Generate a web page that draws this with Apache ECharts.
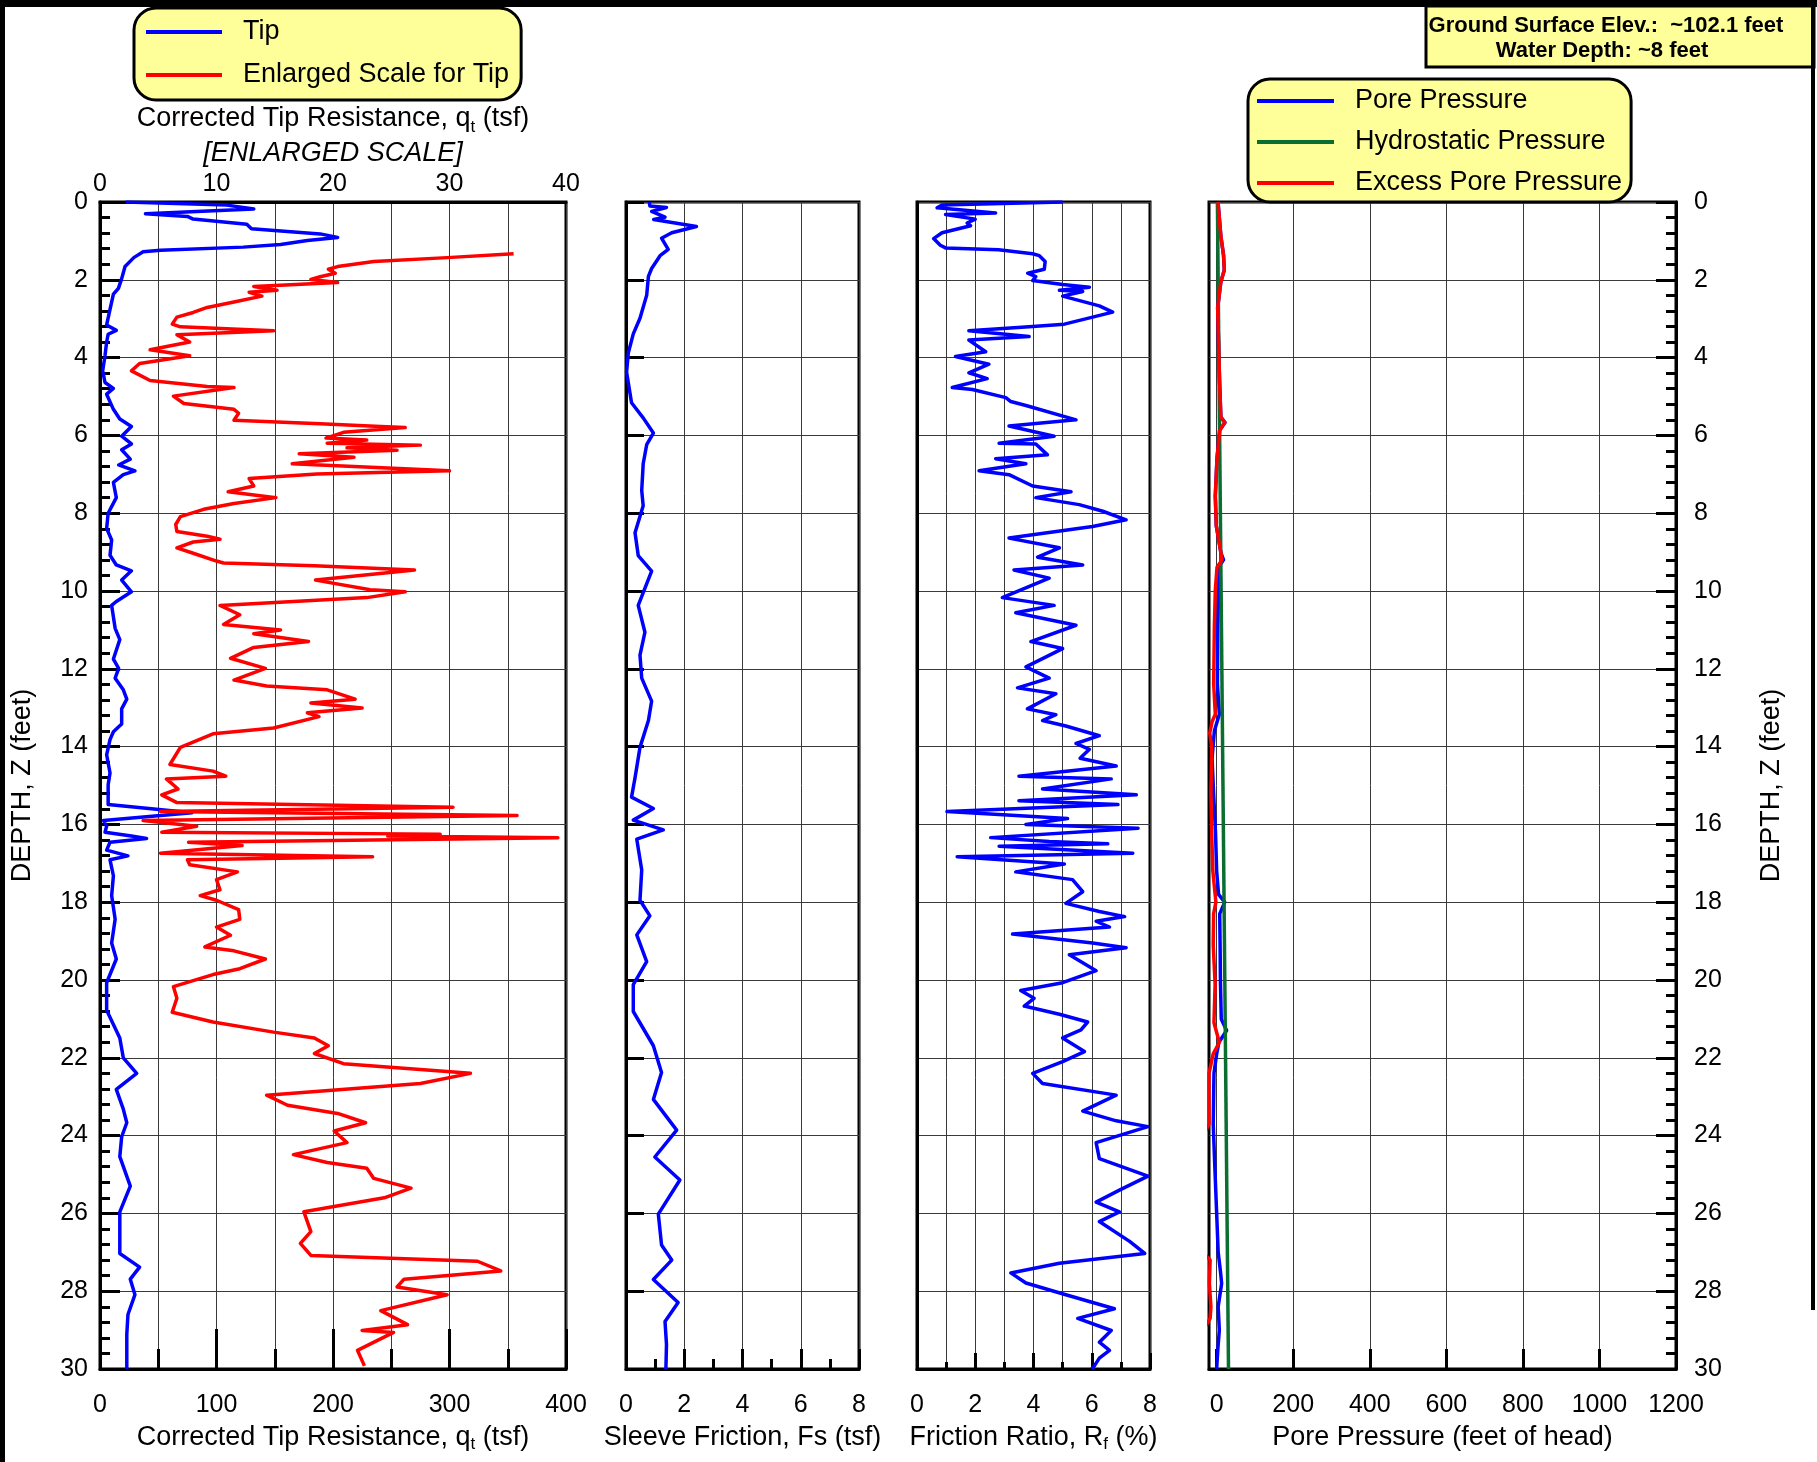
<!DOCTYPE html>
<html>
<head>
<meta charset="utf-8">
<title>CPT log</title>
<script src="https://cdn.jsdelivr.net/npm/echarts@6.0.0/dist/echarts.min.js"></script>
<style>
  html, body { margin: 0; padding: 0; background: #fff; }
  #chart { width: 1817px; height: 1462px; }
</style>
</head>
<body>
<div id="chart"></div>
<script>
// [depth (ft), value]
const tipQt = [[0,22],[0.08,109],[0.18,132],[0.3,39],[0.37,75],[0.44,80],[0.57,126],[0.69,130],[0.82,189],[0.91,204],[0.99,178],[1.09,155],[1.16,123],[1.24,52],[1.28,37],[1.43,29],[1.66,21.5],[1.97,18.6],[2.22,15.8],[2.37,11.5],[2.76,8.6],[3.16,5.7],[3.3,14],[3.4,7],[3.6,5.7],[3.95,4.3],[4.34,2.3],[4.64,4.3],[4.79,11.5],[4.94,5.7],[5.33,11.5],[5.58,17],[5.77,27],[6.02,18.6],[6.22,27],[6.37,18.6],[6.61,26],[6.76,16],[6.91,30],[7.01,20],[7.21,11.5],[7.6,14],[8.0,7],[8.39,5.7],[8.69,10],[9.08,8.6],[9.33,14],[9.48,27],[9.72,18.6],[10.02,27],[10.27,14],[10.37,10],[10.96,13],[11.25,17],[11.75,11.5],[11.99,16],[12.24,13],[12.54,20],[12.78,23],[13.03,18.6],[13.42,18.6],[13.62,11.5],[13.82,8.6],[14.21,5.7],[14.68,8.6],[14.98,7],[15.49,7],[15.7,79],[15.9,3],[16.05,5.7],[16.2,4.3],[16.3,27],[16.36,40],[16.46,8.6],[16.66,5.7],[16.81,24],[16.91,8.6],[17.32,11.5],[17.83,10],[18.44,13],[19.05,10],[19.46,14],[20.07,5.7],[20.78,5.7],[21.49,17],[22.0,20],[22.4,31.5],[22.81,14],[23.32,20],[23.67,23],[24.03,18.6],[24.54,17],[25.3,26],[25.96,17],[27.03,17],[27.38,34],[27.69,26],[28.09,30],[28.6,24],[29.11,23],[29.92,23],[30,23]];

const tipEnlarged = [[1.33,35.5],[1.43,29.8],[1.53,23.5],[1.66,20.4],[1.73,19.6],[1.83,20.2],[1.92,18.9],[1.99,18.1],[2.07,20.4],[2.17,13.2],[2.27,15.2],[2.32,12.8],[2.42,13.9],[2.57,11.5],[2.71,9.2],[2.84,8.0],[2.96,6.6],[3.14,6.2],[3.21,6.9],[3.31,14.9],[3.41,6.6],[3.6,7.7],[3.8,4.3],[3.95,7.7],[4.15,3.4],[4.34,2.7],[4.59,4.3],[4.74,9.2],[4.77,11.5],[4.99,6.3],[5.18,7.2],[5.33,11.5],[5.43,11.9],[5.61,11.5],[5.7,18.9],[5.77,24.1],[5.8,26.2],[5.92,20.9],[6.07,19.4],[6.12,22.9],[6.2,19.5],[6.25,27.5],[6.32,21.2],[6.38,25.5],[6.47,17.1],[6.56,21.8],[6.73,16.5],[6.91,30.0],[6.99,18.6],[7.11,12.8],[7.3,13.2],[7.45,11.0],[7.6,15.1],[7.75,11.5],[7.9,8.9],[8.09,6.9],[8.29,6.5],[8.47,6.6],[8.59,9.2],[8.67,10.3],[8.74,8.0],[8.89,6.6],[9.03,8.0],[9.23,10.0],[9.28,10.6],[9.35,18.4],[9.46,27.0],[9.72,18.5],[9.97,23.2],[10.02,26.2],[10.17,22.9],[10.37,10.3],[10.61,12.0],[10.86,10.6],[11.0,15.5],[11.1,13.2],[11.3,17.9],[11.45,13.2],[11.73,11.2],[11.99,14.2],[12.29,11.5],[12.44,14.3],[12.54,19.5],[12.78,21.9],[12.88,18.1],[13.01,22.5],[13.13,17.8],[13.23,18.8],[13.52,14.9],[13.67,9.7],[14.02,6.9],[14.46,6.0],[14.63,9.7],[14.76,10.8],[14.83,5.7],[15.09,6.7],[15.24,5.3],[15.44,6.6],[15.56,30.3],[15.67,5.2],[15.77,35.8],[15.9,3.7],[16.05,8.3],[16.2,5.3],[16.25,29.2],[16.3,24.7],[16.34,39.3],[16.46,7.6],[16.54,12.2],[16.74,5.2],[16.83,23.4],[16.91,7.5],[17.04,7.7],[17.22,11.8],[17.42,10.0],[17.68,10.3],[17.83,8.6],[17.95,10.0],[18.19,11.9],[18.44,12.0],[18.64,10.0],[18.85,11.2],[19.15,9.0],[19.25,11.5],[19.46,14.2],[19.71,12.0],[19.86,9.7],[20.17,6.3],[20.47,6.6],[20.83,6.2],[21.08,9.7],[21.34,14.9],[21.49,18.4],[21.69,19.6],[21.89,18.4],[22.15,20.9],[22.4,31.8],[22.66,27.5],[22.96,14.3],[23.22,16.1],[23.43,20.4],[23.67,22.8],[23.88,20.1],[24.18,21.2],[24.49,16.6],[24.69,19.5],[24.84,22.9],[25.1,23.5],[25.35,26.7],[25.6,24.4],[25.96,17.5],[26.47,18.1],[26.77,17.2],[27.08,18.1],[27.23,32.4],[27.48,34.4],[27.69,26.1],[27.89,25.5],[28.09,29.8],[28.5,24.1],[28.86,26.4],[29.01,22.5],[29.06,25.2],[29.52,22.1],[29.92,22.7]];

const sleeveFs = [[0,0.8],[0.1,0.82],[0.14,1.39],[0.24,0.88],[0.39,1.34],[0.45,0.95],[0.63,2.42],[0.79,1.57],[0.93,1.22],[1.22,1.45],[1.38,1.17],[1.71,0.88],[1.91,0.77],[2.4,0.71],[2.99,0.48],[3.39,0.25],[3.88,0.08],[4.37,0.02],[5.16,0.19],[5.55,0.59],[5.94,0.94],[6.24,0.71],[6.73,0.59],[7.42,0.54],[7.81,0.59],[8.5,0.31],[9.09,0.42],[9.49,0.88],[10.37,0.42],[11.06,0.65],[11.65,0.48],[12.24,0.54],[12.83,0.88],[13.33,0.77],[14.02,0.48],[14.8,0.31],[15.3,0.19],[15.59,0.94],[15.89,0.25],[16.14,1.28],[16.38,0.37],[17.17,0.54],[17.95,0.48],[18.35,0.82],[18.84,0.37],[19.53,0.71],[20.12,0.25],[20.81,0.25],[21.69,0.94],[22.38,1.22],[23.07,0.94],[23.86,1.74],[24.55,0.99],[25.14,1.85],[26.02,1.11],[26.81,1.22],[27.2,1.57],[27.7,0.94],[28.29,1.79],[28.78,1.34],[29.37,1.39],[30,1.37]];

const frictionRf = [[0,5.0],[0.08,0.86],[0.15,0.69],[0.28,2.7],[0.32,0.98],[0.44,2.0],[0.54,1.72],[0.61,1.84],[0.79,0.86],[0.94,0.57],[1.11,0.8],[1.18,0.98],[1.23,2.8],[1.33,3.97],[1.38,4.2],[1.53,4.4],[1.73,4.37],[1.83,3.8],[1.92,4.08],[2.02,3.97],[2.12,5.0],[2.19,5.92],[2.27,4.89],[2.3,5.69],[2.42,5.0],[2.67,6.26],[2.83,6.72],[2.96,6.03],[3.14,5.06],[3.21,3.85],[3.31,1.78],[3.46,3.85],[3.55,1.78],[3.85,2.36],[3.97,1.32],[4.17,2.47],[4.39,1.78],[4.54,2.41],[4.77,1.21],[4.82,1.9],[5.03,3.05],[5.13,3.22],[5.23,3.74],[5.6,5.46],[5.76,3.16],[6.02,4.71],[6.2,2.82],[6.22,4.08],[6.5,4.48],[6.6,2.7],[6.73,3.74],[6.91,2.13],[7.01,3.16],[7.3,3.97],[7.45,5.29],[7.6,4.08],[7.78,5.57],[7.95,6.38],[8.17,7.18],[8.34,6.03],[8.64,3.16],[8.89,4.89],[9.13,4.14],[9.33,5.69],[9.46,3.33],[9.67,4.54],[10.17,2.93],[10.37,4.71],[10.56,3.39],[10.88,5.46],[11.3,3.91],[11.48,5.0],[11.95,3.74],[12.24,4.54],[12.49,3.45],[12.64,4.77],[13.03,3.79],[13.18,4.77],[13.33,4.31],[13.47,5.11],[13.72,6.26],[13.92,5.46],[14.07,5.92],[14.3,5.6],[14.5,6.84],[14.76,3.5],[14.83,6.67],[15.09,4.31],[15.24,7.53],[15.39,3.5],[15.49,6.9],[15.67,1.03],[15.85,5.17],[16.0,3.74],[16.1,7.59],[16.34,2.53],[16.44,4.54],[16.5,6.55],[16.56,2.82],[16.74,7.41],[16.83,1.38],[17.02,5.06],[17.22,3.39],[17.42,5.34],[17.73,5.69],[18.03,5.11],[18.24,6.26],[18.37,7.13],[18.49,6.15],[18.64,6.61],[18.82,3.28],[19.05,6.03],[19.17,7.18],[19.35,5.23],[19.76,6.15],[20.07,5.0],[20.27,3.56],[20.47,4.02],[20.67,3.68],[20.88,4.89],[21.08,5.86],[21.28,5.63],[21.49,5.0],[21.84,5.75],[22.1,5.0],[22.4,3.97],[22.66,4.31],[22.96,6.84],[23.37,5.69],[23.62,6.84],[23.77,7.93],[24.18,6.15],[24.59,6.26],[25.04,7.93],[25.4,6.95],[25.71,6.15],[25.96,6.95],[26.21,6.26],[26.72,7.3],[27.03,7.82],[27.28,4.89],[27.53,3.22],[27.79,3.74],[28.09,5.11],[28.45,6.78],[28.7,5.52],[29.01,6.67],[29.31,6.26],[29.52,6.61],[29.72,6.26],[29.92,6.09],[30,6.0]];

const porePressure = [[0,3.5],[0.88,11],[1.37,18],[1.75,20],[2.05,11],[2.72,2.6],[3.69,5.2],[4.66,7.8],[5.53,11],[5.67,22],[5.87,7.8],[6.59,0.9],[7.56,-3.5],[8.33,-0.9],[9.01,11],[9.2,18],[9.39,5],[9.97,5],[10.94,3],[12.39,2],[13.17,7],[13.6,-6],[14.3,-12],[15.2,-8],[16.2,-3],[17.2,0],[17.8,5],[18,21],[18.3,8],[19.1,9],[20.1,10],[21,12],[21.3,26],[21.6,6],[21.9,0],[22.4,-7],[23.7,-9],[25,-4],[26,0],[27,4],[27.5,10],[27.8,13],[28.4,4],[29,7],[29.5,3],[30,0]];

const hydrostatic = [[0,2],[30,31]];

const excessPore = [[0,3.5],[0.88,11],[1.37,18],[1.75,20],[2.05,11],[2.72,2.6],[3.69,5.2],[4.66,7.8],[5.53,11],[5.67,21],[5.87,7.8],[6.59,0.9],[7.56,-3.5],[8.33,-0.9],[9.01,11],[9.2,14],[9.39,0.9],[9.97,-3.5],[10.94,-6],[12.39,-7.8],[13.17,-3.5],[13.36,-12],[13.65,-18],[14,-13],[15.2,-15],[16.2,-13],[17.2,-10],[18,-2],[18.3,-8],[19.1,-9],[20.1,-4],[21.1,-7],[21.6,7],[21.9,-9],[22.4,-20],[23.7,-20],[24,-35],[27,-35],[27.2,-17],[27.8,-19],[28.4,-15],[28.7,-17],[29,-35],[30,-40]];

const poreTicks = [0, 200, 400, 600, 800, 1000, 1200];

const FONT = '"Liberation Sans", Arial, Helvetica, sans-serif';
const BLUE = '#0000ff', RED = '#ff0000', GREEN = '#0a6e31', YELLOW = '#ffff99';

const gridLine = { show: true, lineStyle: { color: '#3a3a3a', width: 1 } };
const axisLine = { show: true, onZero: false, lineStyle: { color: '#000', width: 3 } };
const plain = v => String(v);
const label = (margin, extra) => Object.assign({ color: '#000', fontSize: 25, margin: margin, fontFamily: FONT, formatter: plain }, extra || {});
const nameStyle = {
  color: '#000', fontSize: 27, fontFamily: FONT, lineHeight: 30,
  rich: {
    a: { fontSize: 27, fontFamily: FONT, color: '#000', lineHeight: 30 },
    sub: { fontSize: 17, fontFamily: FONT, color: '#000', lineHeight: 18, verticalAlign: 'bottom' },
    i: { fontSize: 27, fontFamily: FONT, color: '#000', fontStyle: 'italic', lineHeight: 35 },
    b: { fontSize: 27, fontFamily: FONT, color: '#000', lineHeight: 35 }
  }
};
const tick = (len, w) => ({ show: true, inside: true, length: len, lineStyle: { color: '#000', width: w || 3 } });
const minor = (n, len) => ({ show: true, splitNumber: n, length: len, lineStyle: { color: '#000', width: 3 } });

function depthAxis(gridIndex, extra) {
  return Object.assign({
    type: 'value', gridIndex: gridIndex, min: 0, max: 30, interval: 2, inverse: true,
    axisLine: axisLine, splitLine: gridLine,
    axisLabel: { show: false }, axisTick: { show: false }
  }, extra);
}

function curve(name, pairs, xi, yi, color, z) {
  return {
    name: name, type: 'line', xAxisIndex: xi, yAxisIndex: yi,
    data: pairs.map(p => [p[1], p[0]]),
    symbol: 'none', z: z || 2, clip: true,
    lineStyle: { color: color, width: 3.5, join: 'round' },
    itemStyle: { color: color }
  };
}

const chart = echarts.init(document.getElementById('chart'), null, { renderer: 'canvas' });

chart.setOption({
  animation: false,
  backgroundColor: '#fff',
  textStyle: { fontFamily: FONT },
  grid: [
    { left: 100, top: 202, width: 466, height: 1167, show: true, borderColor: '#000', borderWidth: 3 },
    { left: 626, top: 202, width: 233, height: 1167, show: true, borderColor: '#000', borderWidth: 3 },
    { left: 917, top: 202, width: 233, height: 1167, show: true, borderColor: '#000', borderWidth: 3 },
    { left: 1209, top: 202, width: 467, height: 1167, show: true, borderColor: '#000', borderWidth: 3 }
  ],
  legend: [
    {
      left: 134, top: 8, orient: 'vertical', selectedMode: false,
      data: [{ name: 'Tip', icon: 'rect' }, { name: 'Enlarged Scale for Tip', icon: 'rect' }],
      itemWidth: 76, itemHeight: 4, itemGap: 13,
      padding: [9, 12, 10, 12],
      backgroundColor: YELLOW, borderColor: '#000', borderWidth: 3, borderRadius: 22,
      textStyle: { fontSize: 27, color: '#000', fontFamily: FONT, lineHeight: 30, padding: [0, 0, 0, 16] }
    },
    {
      left: 1248, top: 79, orient: 'vertical', selectedMode: false,
      data: [{ name: 'Pore Pressure', icon: 'rect' }, { name: 'Hydrostatic Pressure', icon: 'rect' }, { name: 'Excess Pore Pressure', icon: 'rect' }],
      itemWidth: 77, itemHeight: 4, itemGap: 11,
      padding: [7, 9, 4, 9],
      backgroundColor: YELLOW, borderColor: '#000', borderWidth: 3, borderRadius: 22,
      textStyle: { fontSize: 27, color: '#000', fontFamily: FONT, lineHeight: 30, padding: [0, 0, 0, 16] }
    }
  ],
  xAxis: [
    {
      type: 'value', gridIndex: 0, position: 'bottom', min: 0, max: 400, interval: 100,
      name: '{a|Corrected Tip Resistance, q}{sub|t}{a| (tsf)}', nameLocation: 'middle', nameGap: 53, nameTextStyle: nameStyle,
      axisLine: axisLine, axisLabel: label(24), axisTick: tick(40), minorTick: minor(2, 20),
      splitLine: gridLine, minorSplitLine: gridLine
    },
    {
      type: 'value', gridIndex: 0, position: 'top', min: 0, max: 40, interval: 10,
      name: '{b|Corrected Tip Resistance, q}{sub|t}{b| (tsf)}\n{i|[ENLARGED SCALE]}', nameLocation: 'middle', nameGap: 31, nameMoveOverlap: false, nameTextStyle: nameStyle,
      axisLine: axisLine, axisLabel: label(5), axisTick: { show: false }, splitLine: { show: false }
    },
    {
      type: 'value', gridIndex: 1, position: 'bottom', min: 0, max: 8, interval: 2,
      name: 'Sleeve Friction, Fs (tsf)', nameLocation: 'middle', nameGap: 53, nameTextStyle: nameStyle,
      axisLine: axisLine, axisLabel: label(24), axisTick: tick(20), minorTick: minor(2, 10),
      splitLine: gridLine
    },
    {
      type: 'value', gridIndex: 2, position: 'bottom', min: 0, max: 8, interval: 2,
      name: '{a|Friction Ratio, R}{sub|f}{a| (%)}', nameLocation: 'middle', nameGap: 53, nameTextStyle: nameStyle,
      axisLine: axisLine, axisLabel: label(24), axisTick: tick(16), minorTick: minor(2, 7),
      splitLine: gridLine, minorSplitLine: gridLine
    },
    {
      type: 'value', gridIndex: 3, position: 'bottom', min: -20, max: 1200,
      name: 'Pore Pressure (feet of head)', nameLocation: 'middle', nameGap: 53, nameTextStyle: nameStyle,
      axisLine: axisLine,
      axisLabel: label(24, { customValues: poreTicks }),
      axisTick: Object.assign(tick(20), { customValues: poreTicks }),
      splitLine: gridLine
    }
  ],
  yAxis: [
    depthAxis(0, {
      position: 'left',
      name: 'DEPTH, Z (feet)', nameLocation: 'middle', nameRotate: 90, nameGap: 62, nameTextStyle: nameStyle,
      axisLabel: label(12), axisTick: tick(20), minorTick: minor(5, 10)
    }),
    depthAxis(1, { position: 'left', axisTick: tick(18) }),
    depthAxis(2, { position: 'left' }),
    depthAxis(3, {
      position: 'right',
      name: 'DEPTH, Z (feet)', nameLocation: 'middle', nameRotate: 90, nameGap: 81, nameTextStyle: nameStyle,
      axisLabel: label(18), axisTick: tick(20), minorTick: minor(5, 10)
    })
  ],
  series: [
    curve('Tip', tipQt, 0, 0, BLUE, 2),
    curve('Enlarged Scale for Tip', tipEnlarged, 1, 0, RED, 3),
    curve('Sleeve Friction', sleeveFs, 2, 1, BLUE, 2),
    curve('Friction Ratio', frictionRf, 3, 2, BLUE, 2),
    curve('Pore Pressure', porePressure, 4, 3, BLUE, 2),
    curve('Hydrostatic Pressure', hydrostatic, 4, 3, GREEN, 3),
    curve('Excess Pore Pressure', excessPore, 4, 3, RED, 4)
  ],
  graphic: [
    { type: 'rect', z: 100, shape: { x: 1426, y: 6, width: 388, height: 61 }, style: { fill: YELLOW, stroke: '#000', lineWidth: 3 } },
    { type: 'text', z: 101, x: 1606, y: 26, style: { text: 'Ground Surface Elev.:  ~102.1 feet', fontSize: 22, fontWeight: 'bold', fontFamily: FONT, fill: '#000', align: 'center', verticalAlign: 'middle' } },
    { type: 'text', z: 101, x: 1602, y: 51, style: { text: 'Water Depth: ~8 feet', fontSize: 22, fontWeight: 'bold', fontFamily: FONT, fill: '#000', align: 'center', verticalAlign: 'middle' } },
    { type: 'rect', z: 102, shape: { x: 0, y: 0, width: 1817, height: 7 }, style: { fill: '#000' } },
    { type: 'rect', z: 102, shape: { x: 0, y: 0, width: 5, height: 1462 }, style: { fill: '#000' } },
    { type: 'rect', z: 102, shape: { x: 1811, y: 0, width: 4, height: 1310 }, style: { fill: '#000' } }
  ]
});
</script>
</body>
</html>
